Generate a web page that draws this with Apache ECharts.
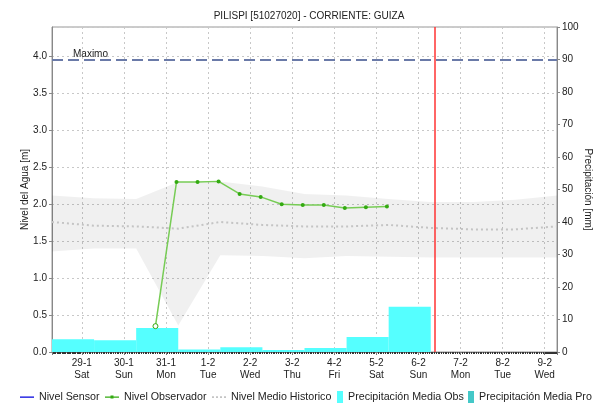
<!DOCTYPE html>
<html><head><meta charset="utf-8">
<script src="https://cdn.jsdelivr.net/npm/echarts@6/dist/echarts.min.js"></script>
<style>html,body{margin:0;padding:0;background:#fff}#c{width:602px;height:412px}</style>
</head><body><div id="c"></div>
<script>
const chartTitle = 'PILISPI [51027020] - CORRIENTE: GUIZA';
const dayNames = ['Sun','Mon','Tue','Wed','Thu','Fri','Sat'];
const axisStart = '2022-01-28 07:00';
const axisEnd = '2022-02-09 07:00';
const nowTime = '2022-02-06 09:10';
const maximoLevel = 3.95;

const obsTimes = ['2022-01-30 18:00','2022-01-31 06:00','2022-01-31 18:00','2022-02-01 06:00','2022-02-01 18:00','2022-02-02 06:00','2022-02-02 18:00','2022-02-03 06:00','2022-02-03 18:00','2022-02-04 06:00','2022-02-04 18:00','2022-02-05 06:00'];
const obsLevels = [0.35, 2.30, 2.30, 2.31, 2.14, 2.10, 2.00, 1.99, 1.99, 1.95, 1.96, 1.97];

const histTimes = ['2022-01-28 07:00','2022-01-29 07:00','2022-01-30 07:00','2022-01-31 07:00','2022-02-01 07:00','2022-02-02 07:00','2022-02-03 07:00','2022-02-04 07:00','2022-02-05 07:00','2022-02-06 07:00','2022-02-07 07:00','2022-02-08 07:00','2022-02-09 07:00'];
const histMean  = [1.76, 1.71, 1.70, 1.67, 1.76, 1.72, 1.70, 1.70, 1.72, 1.68, 1.66, 1.66, 1.70];
const histUpper = [2.12, 2.08, 2.07, 2.30, 2.31, 2.24, 2.14, 2.12, 2.07, 2.03, 2.03, 2.06, 2.12];
const histLower = [1.36, 1.40, 1.40, 0.36, 1.31, 1.30, 1.27, 1.30, 1.29, 1.28, 1.28, 1.28, 1.28];

const precipStart = ['2022-01-28 07:00','2022-01-29 07:00','2022-01-30 07:00','2022-01-31 07:00','2022-02-01 07:00','2022-02-02 07:00','2022-02-03 07:00','2022-02-04 07:00','2022-02-05 07:00'];
const precipEnd   = ['2022-01-29 07:00','2022-01-30 07:00','2022-01-31 07:00','2022-02-01 07:00','2022-02-02 07:00','2022-02-03 07:00','2022-02-04 07:00','2022-02-05 07:00','2022-02-06 07:00'];
const precipObs = [3.9, 3.6, 7.4, 0.8, 1.5, 0.6, 1.2, 4.6, 13.9];
const precipPro = [];

const T = s => new Date(s.replace(' ', 'T')).getTime();
const FONT = 'Liberation Sans';

const barRender = (color) => function (params, api) {
  const p0 = api.coord([api.value(0), 0]);
  const p1 = api.coord([api.value(1), api.value(2)]);
  return {type: 'rect', shape: {x: p0[0], y: p1[1], width: p1[0] - p0[0], height: p0[1] - p1[1]}, style: {fill: color}};
};

// legend icons (bounding corners keep the line thin and centred)
const BOX = 'M0,0 L0.01,0 L0.01,0.01 Z M14,12 L13.99,12 L13.99,11.99 Z ';
const ICON_LINE = 'path://' + BOX + 'M0,5.5 L14,5.5 L14,6.7 L0,6.7 Z';
const ICON_OBS = 'path://' + BOX + 'M0,5.5 L14,5.5 L14,6.7 L0,6.7 Z M5.5,4.6 L8.5,4.6 L8.5,7.6 L5.5,7.6 Z';
const ICON_DOT = 'path://' + BOX + 'M0,5.3 L2,5.3 L2,6.9 L0,6.9 Z M4,5.3 L6,5.3 L6,6.9 L4,6.9 Z M8,5.3 L10,5.3 L10,6.9 L8,6.9 Z M12,5.3 L14,5.3 L14,6.9 L12,6.9 Z';

const legendText = {fontSize: 10.7, color: '#222', fontFamily: FONT};
const mkLegend = (left, name, icon, w, h) => ({left: left, top: 391, padding: 0, itemWidth: w, itemHeight: h,
  textStyle: legendText, data: [{name: name, icon: icon}]});

const chart = echarts.init(document.getElementById('c'), null, {renderer: 'canvas'});
chart.setOption({
  animation: false,
  backgroundColor: '#fff',
  textStyle: {fontFamily: FONT},
  title: {text: chartTitle, left: 304, textAlign: 'center', top: 6,
    textStyle: {fontSize: 10, fontWeight: 'normal', color: '#222', fontFamily: FONT}},
  grid: {left: 52, right: 45, top: 27, bottom: 60, show: true, borderColor: '#999', borderWidth: 1,
    containLabel: false, outerBoundsMode: 'none'},
  legend: [
    mkLegend(20, 'Nivel Sensor', ICON_LINE, 14, 12),
    mkLegend(105, 'Nivel Observador', ICON_OBS, 14, 12),
    mkLegend(212, 'Nivel Medio Historico', ICON_DOT, 14, 12),
    mkLegend(337, 'Precipitación Media Obs', 'rect', 6, 12),
    mkLegend(468, 'Precipitación Media Pro', 'rect', 6, 12)
  ],
  xAxis: {
    type: 'time', min: T(axisStart), max: T(axisEnd),
    splitNumber: 12, minInterval: 86400000, maxInterval: 86400000,
    axisLine: {lineStyle: {color: '#777'}},
    axisTick: {show: true, length: 3, lineStyle: {color: '#777'}},
    minorTick: {show: true, splitNumber: 24, length: 2, lineStyle: {color: '#333'}},
    splitLine: {show: true, lineStyle: {color: '#c8c8c8', type: [2, 3]}},
    axisLabel: {fontSize: 10, color: '#222', margin: 5, lineHeight: 12, hideOverlap: false,
      formatter: function (v) { const d = new Date(v); return d.getDate() + '-' + (d.getMonth() + 1) + '\n' + dayNames[d.getDay()]; }}
  },
  yAxis: [
    {type: 'value', min: 0, max: 4.4, interval: 0.5,
     name: 'Nivel del Agua [m]', nameLocation: 'middle', nameGap: 22, nameRotate: 90, nameMoveOverlap: false,
     nameTextStyle: {fontSize: 10, color: '#222', fontFamily: FONT},
     axisLine: {show: true, lineStyle: {color: '#888'}},
     axisTick: {show: true, length: 3, lineStyle: {color: '#888'}},
     axisLabel: {fontSize: 10, color: '#222', margin: 5, showMaxLabel: false, formatter: v => v.toFixed(1)},
     splitLine: {show: true, lineStyle: {color: '#c8c8c8', type: [2, 3]}}},
    {type: 'value', min: 0, max: 100, interval: 10,
     name: 'Precipitación [mm]', nameLocation: 'middle', nameGap: 26, nameRotate: -90, nameMoveOverlap: false,
     nameTextStyle: {fontSize: 10, color: '#222', fontFamily: FONT},
     axisLine: {show: true, lineStyle: {color: '#888'}},
     axisTick: {show: true, length: 3, lineStyle: {color: '#888'}},
     axisLabel: {fontSize: 10, color: '#222', margin: 5},
     splitLine: {show: false}}
  ],
  series: [
    {name: 'bandLower', type: 'line', stack: 'band', symbol: 'none', z: 1, silent: true,
     lineStyle: {opacity: 0}, data: histTimes.map((t, i) => [T(t), histLower[i]])},
    {name: 'bandRange', type: 'line', stack: 'band', symbol: 'none', z: 1, silent: true,
     lineStyle: {opacity: 0}, areaStyle: {color: 'rgba(0,0,0,0.06)', opacity: 1},
     data: histTimes.map((t, i) => [T(t), +(histUpper[i] - histLower[i]).toFixed(3)])},
    {name: 'Nivel Medio Historico', type: 'line', symbol: 'none', z: 2,
     itemStyle: {color: '#c4c4c4'}, lineStyle: {color: '#c4c4c4', width: 2, type: [2, 3]},
     data: histTimes.map((t, i) => [T(t), histMean[i]])},
    {name: 'Precipitación Media Obs', type: 'custom', yAxisIndex: 1, z: 3, clip: true,
     itemStyle: {color: '#55ffff'}, renderItem: barRender('#55ffff'),
     encode: {x: [0, 1], y: 2},
     data: precipStart.map((s, i) => [T(s), T(precipEnd[i]), precipObs[i]])},
    {name: 'Precipitación Media Pro', type: 'custom', yAxisIndex: 1, z: 3, clip: true,
     itemStyle: {color: '#44c8c8'}, renderItem: barRender('#44c8c8'),
     encode: {x: [0, 1], y: 2}, data: precipPro},
    {name: 'Nivel Sensor', type: 'line', symbol: 'none', z: 4,
     itemStyle: {color: '#0000dd'}, lineStyle: {color: '#0000dd', width: 1.5}, data: [],
     markLine: {silent: true, symbol: 'none', z: 6,
       data: [
         {yAxis: maximoLevel, lineStyle: {color: '#6a7aa8', width: 2, type: [11, 5]},
          label: {show: true, formatter: 'Maximo', position: 'insideStartTop', color: '#222', fontSize: 10, fontFamily: FONT, padding: [0, 0, 0, 20], distance: 1}},
         {xAxis: T(nowTime), lineStyle: {color: '#ff3333', width: 1.5, type: 'solid'}, label: {show: false}}
       ]}},
    {name: 'Nivel Observador', type: 'line', z: 5, symbol: 'circle', symbolSize: 4,
     itemStyle: {color: '#33aa11'}, lineStyle: {color: '#77cc55', width: 1.5},
     data: obsTimes.map((t, i) => {
       const p = {value: [T(t), obsLevels[i]]};
       if (i === 0) { p.itemStyle = {color: '#fff', borderColor: '#33aa11', borderWidth: 1}; p.symbolSize = 5; }
       return p;
     })}
  ]
});
</script></body></html>
